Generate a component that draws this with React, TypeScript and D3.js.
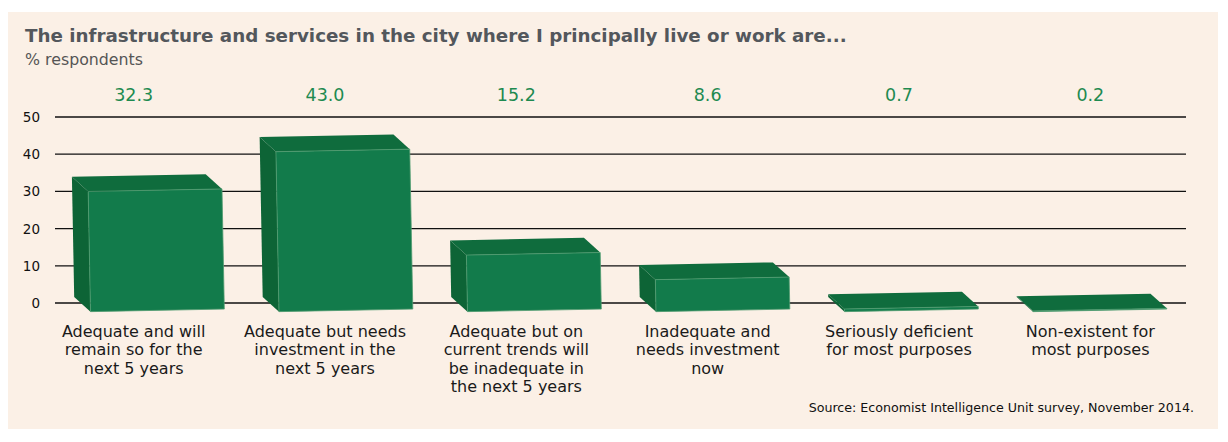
import React, { useEffect, useRef } from "react"
import * as d3 from "d3"

const categoryLines: string[][] = [
  ["Adequate and will", "remain so for the", "next 5 years"],
  ["Adequate but needs", "investment in the", "next 5 years"],
  ["Adequate but on", "current trends will", "be inadequate in", "the next 5 years"],
  ["Inadequate and", "needs investment", "now"],
  ["Seriously deficient", "for most purposes"],
  ["Non-existent for", "most purposes"],
]
const values = [32.3, 43.0, 15.2, 8.6, 0.7, 0.2]
const valueLabels = ["32.3", "43.0", "15.2", "8.6", "0.7", "0.2"]
const yTicks = [0, 10, 20, 30, 40, 50]

const title = "The infrastructure and services in the city where I principally live or work are..."
const subtitle = "% respondents"
const source = "Source: Economist Intelligence Unit survey, November 2014."

export default function App() {
  const svgRef = useRef<SVGSVGElement>(null)

  useEffect(() => {
    if (!svgRef.current) return
    document.body.style.margin = "0"

    const W = 1228
    const H = 442
    const font = "'DejaVu Sans', Verdana, sans-serif"

    const svg = d3.select(svgRef.current)
    svg.selectAll("*").remove()
    svg.attr("width", W).attr("height", H)

    svg.append("rect").attr("width", W).attr("height", H).attr("fill", "#ffffff")
    svg.append("rect")
      .attr("x", 8).attr("y", 12).attr("width", 1210).attr("height", 417)
      .attr("fill", "#FBF0E6")

    // Titles
    svg.append("text")
      .attr("x", 25).attr("y", 42)
      .attr("font-family", font).attr("font-size", 18.3).attr("font-weight", "bold")
      .attr("fill", "#53575c")
      .text(title)
    svg.append("text")
      .attr("x", 25).attr("y", 65)
      .attr("font-family", font).attr("font-size", 15.8)
      .attr("fill", "#555555")
      .text(subtitle)

    // Scales
    const idx = values.map((_, i) => String(i))
    const x = d3.scaleBand().domain(idx).range([55, 1186]).paddingInner(0.29).paddingOuter(0.145)
    const xLabel = d3.scaleBand().domain(idx).range([38, 1186])
    const y = d3.scaleLinear().domain([0, 50]).range([303, 117])

    // Gridlines
    svg.append("g")
      .selectAll("line")
      .data(yTicks)
      .enter()
      .append("line")
      .attr("x1", 55).attr("x2", 1186)
      .attr("y1", d => y(d)).attr("y2", d => y(d))
      .attr("stroke", "#111").attr("stroke-width", 1.3)

    svg.append("g")
      .selectAll("text")
      .data(yTicks)
      .enter()
      .append("text")
      .attr("x", 40).attr("y", d => y(d) + 5)
      .attr("text-anchor", "end")
      .attr("font-family", font).attr("font-size", 13.5)
      .attr("fill", "#111")
      .text(d => d)

    // 3D bars
    const dx = 8
    const dy = 7.5
    const bw = x.bandwidth()
    const bars = svg.append("g")
    values.forEach((v, i) => {
      const x0 = x(String(i)) || 0
      const x1 = x0 + bw
      const yt = y(v)
      const yb = y(0)
      const g = bars.append("g")
        .attr("transform", `rotate(-1.1, ${(x0 + x1) / 2}, ${yb})`)
      // left side
      g.append("polygon")
        .attr("points", [
          [x0 - dx, yt - dy], [x0 + dx, yt + dy], [x0 + dx, yb + dy], [x0 - dx, yb - dy],
        ].map(p => p.join(",")).join(" "))
        .attr("fill", "#0D6436")
      // top
      g.append("polygon")
        .attr("points", [
          [x0 - dx, yt - dy], [x1 - dx, yt - dy], [x1 + dx, yt + dy], [x0 + dx, yt + dy],
        ].map(p => p.join(",")).join(" "))
        .attr("fill", "#0F6C3D")
      // front
      g.append("rect")
        .attr("x", x0 + dx).attr("y", yt + dy)
        .attr("width", bw).attr("height", yb - yt)
        .attr("fill", "#127B4B")
        .attr("stroke", "#4f9c70").attr("stroke-width", 0.8)
    })

    // Value labels
    svg.append("g")
      .selectAll("text")
      .data(valueLabels)
      .enter()
      .append("text")
      .attr("x", (_, i) => (xLabel(String(i)) || 0) + xLabel.bandwidth() / 2)
      .attr("y", 101)
      .attr("text-anchor", "middle")
      .attr("font-family", font).attr("font-size", 17.5)
      .attr("fill", "#1E8A50")
      .text(d => d)

    // Category labels
    const cat = svg.append("g")
    categoryLines.forEach((lines, i) => {
      const cx = (xLabel(String(i)) || 0) + xLabel.bandwidth() / 2
      const t = cat.append("text")
        .attr("text-anchor", "middle")
        .attr("font-family", font).attr("font-size", 16)
        .attr("fill", "#1a1a1a")
      lines.forEach((ln, j) => {
        t.append("tspan").attr("x", cx).attr("y", 337 + j * 18.3).text(ln)
      })
    })

    svg.append("text")
      .attr("x", 1194).attr("y", 412)
      .attr("text-anchor", "end")
      .attr("font-family", font).attr("font-size", 12.65)
      .attr("fill", "#111")
      .text(source)
  }, [])

  return <svg ref={svgRef} style={{ display: "block" }}></svg>
}
